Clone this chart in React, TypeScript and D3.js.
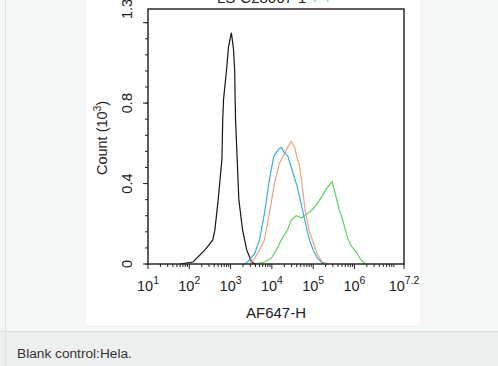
import React from "react";
import * as d3 from "d3";

// Histogram data: log10(AF647-H) and count (10^3)
const blackExp = [1.77, 2.09, 2.38, 2.57, 2.62, 2.7, 2.79, 2.81, 2.83, 2.9, 2.95, 3.02, 3.07, 3.1, 3.11, 3.12, 3.16, 3.2, 3.29, 3.34, 3.39, 3.51, 3.61];
const blackCount = [0, 0.01, 0.07, 0.12, 0.17, 0.32, 0.52, 0.72, 0.82, 0.96, 1.08, 1.15, 1.07, 0.96, 0.82, 0.72, 0.52, 0.32, 0.17, 0.12, 0.07, 0.01, 0];

const blueExp = [3.34, 3.41, 3.58, 3.7, 3.82, 3.94, 4.04, 4.09, 4.16, 4.23, 4.31, 4.38, 4.47, 4.62, 4.74, 4.86, 4.91, 5.0, 5.1, 5.25];
const blueCount = [0, 0.01, 0.05, 0.12, 0.25, 0.42, 0.53, 0.55, 0.57, 0.58, 0.55, 0.54, 0.48, 0.38, 0.27, 0.16, 0.12, 0.07, 0.03, 0];

const orangeExp = [3.46, 3.56, 3.7, 3.82, 3.94, 4.06, 4.18, 4.28, 4.38, 4.47, 4.55, 4.62, 4.67, 4.74, 4.81, 4.91, 4.98, 5.1, 5.22, 5.34];
const orangeCount = [0, 0.02, 0.07, 0.12, 0.25, 0.4, 0.5, 0.54, 0.58, 0.61, 0.58, 0.52, 0.49, 0.38, 0.26, 0.16, 0.12, 0.05, 0.01, 0];

const greenExp = [3.58, 3.82, 3.99, 4.11, 4.23, 4.38, 4.47, 4.59, 4.72, 4.86, 4.98, 5.1, 5.22, 5.34, 5.46, 5.56, 5.63, 5.7, 5.78, 5.83, 5.92, 6.04, 6.16, 6.26];
const greenCount = [0, 0.01, 0.03, 0.07, 0.12, 0.17, 0.22, 0.24, 0.23, 0.25, 0.27, 0.3, 0.34, 0.38, 0.41, 0.33, 0.27, 0.23, 0.17, 0.13, 0.09, 0.06, 0.02, 0];

const yLabelValues = [0, 0.4, 0.8, 1.268];
const yLabelTexts = ["0", "0.4", "0.8", "1.3"];
const yMajorTicks = [0, 0.4, 0.8, 1.2];
const xTickExponents = [1, 2, 3, 4, 5, 6, 7.2];
const xTickSup = ["1", "2", "3", "4", "5", "6", "7.2"];
const caption = "Blank control:Hela.";

const FONT = "Liberation Sans, Arial, sans-serif";

export default function App() {
  const x = d3.scaleLog().domain([10, Math.pow(10, 7.2)]).range([148, 404]);
  const y = d3.scaleLinear().domain([0, 1.268]).range([264, 9]);

  const mk = (ex: number[], ct: number[]) =>
    d3
      .line<number>()
      .x((_, i) => x(Math.pow(10, ex[i])))
      .y((d) => y(d))(ct) || "";

  const series = [
    { ex: blackExp, ct: blackCount, color: "#151515" },
    { ex: greenExp, ct: greenCount, color: "#5fd35f" },
    { ex: orangeExp, ct: orangeCount, color: "#f2a27c" },
    { ex: blueExp, ct: blueCount, color: "#3aaedb" },
  ];

  const minorY = d3.range(0, 1.21, 0.08);
  const minorX: number[] = [];
  for (let d = 1; d <= 7; d++) {
    for (let k = 2; k <= 9; k++) {
      const v = k * Math.pow(10, d);
      if (v < Math.pow(10, 7.2)) minorX.push(v);
    }
  }

  return (
    <svg
      width={498}
      height={366}
      style={{ position: "absolute", left: 0, top: 0, fontFamily: FONT }}
    >
      <rect x={0} y={0} width={498} height={331} fill="#f5f7f7" />
      <rect x={0} y={331} width={498} height={35} fill="#eef0f0" />
      <line x1={0} x2={498} y1={331.5} y2={331.5} stroke="#dadddd" />
      <line x1={5.5} x2={5.5} y1={0} y2={366} stroke="#dfe2e2" />
      <rect x={86} y={0} width={334} height={325} fill="#ffffff" />

      {/* cut-off title */}
      <text x={217} y={3} fontSize={15} fill="#222">
        LS-C28067-1
        <tspan fill="#5fd35f"> + +</tspan>
      </text>

      {/* series */}
      {series.map((s, i) => (
        <path key={i} d={mk(s.ex, s.ct)} fill="none" stroke={s.color} strokeWidth={1.2} />
      ))}

      {/* frame */}
      <rect x={148} y={9} width={256} height={255} fill="none" stroke="#1a1a1a" strokeWidth={1.4} />

      {/* y ticks */}
      {minorY.map((v, i) => (
        <line key={"my" + i} x1={145} x2={148} y1={y(v)} y2={y(v)} stroke="#222" strokeWidth={1} />
      ))}
      {yMajorTicks.map((v, i) => (
        <line key={"My" + i} x1={143} x2={148} y1={y(v)} y2={y(v)} stroke="#222" strokeWidth={1} />
      ))}
      {yLabelValues.map((v, i) => (
        <text
          key={"yl" + i}
          transform={`translate(132,${y(v)}) rotate(-90)`}
          textAnchor="middle"
          fontSize={14.5}
          fill="#222"
        >
          {yLabelTexts[i]}
        </text>
      ))}
      <text transform="translate(107,138) rotate(-90)" textAnchor="middle" fontSize={14.5} fill="#222">
        Count (10
        <tspan dy={-6} fontSize={10}>3</tspan>
        <tspan dy={6}>)</tspan>
      </text>

      {/* x ticks */}
      {minorX.map((v, i) => (
        <line key={"mx" + i} x1={x(v)} x2={x(v)} y1={264} y2={267} stroke="#222" strokeWidth={1} />
      ))}
      {xTickExponents.map((e, i) => (
        <g key={"xt" + i}>
          <line x1={x(Math.pow(10, e))} x2={x(Math.pow(10, e))} y1={264} y2={269} stroke="#222" strokeWidth={1} />
          <text x={x(Math.pow(10, e))} y={291} textAnchor="middle" fontSize={14.5} fill="#222">
            10
            <tspan dy={-7} fontSize={10.5}>{xTickSup[i]}</tspan>
          </text>
        </g>
      ))}
      <text x={276} y={318} textAnchor="middle" fontSize={15} fill="#222">
        AF647-H
      </text>

      <text x={17} y={358} fontSize={13.7} fill="#333">
        {caption}
      </text>
    </svg>
  );
}
